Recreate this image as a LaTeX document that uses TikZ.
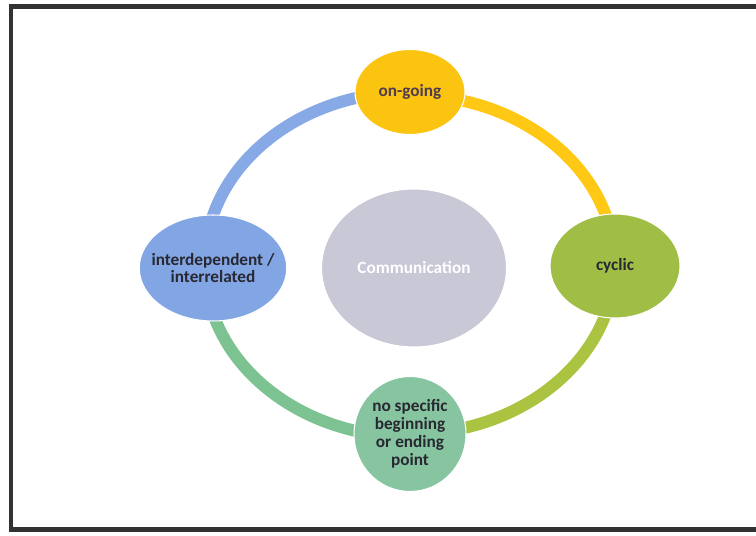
\documentclass[tikz,border=0pt]{standalone}
\usepackage{fontspec}
\setmainfont{Carlito}
\usetikzlibrary{shapes.geometric}

\definecolor{goldfill}{RGB}{250,196,16}
\definecolor{limefill}{RGB}{160,190,70}
\definecolor{bluefill}{RGB}{130,165,228}
\definecolor{tealfill}{RGB}{135,196,160}
\definecolor{greyfill}{RGB}{200,200,215}
\definecolor{bluering}{RGB}{135,170,230}
\definecolor{goldring}{RGB}{255,200,20}
\definecolor{limering}{RGB}{170,195,65}
\definecolor{tealring}{RGB}{125,195,145}
\definecolor{labeltext}{RGB}{40,40,50}
\definecolor{goldtext}{RGB}{80,60,80}
\definecolor{framegrey}{RGB}{50,50,50}

\begin{document}
\begin{tikzpicture}[x=0.02cm,y=0.02cm,
  bubble/.style={ellipse,inner xsep=-12pt,inner ysep=0pt,draw=white,line width=0.6pt,align=center,
    font=\fontsize{9.8}{10.2}\selectfont\bfseries,text=labeltext},
  ringarc/.style={line width=0.24cm}]
  \useasboundingbox (0,0) rectangle (756,536);
  % outer frame, open on the right
  \draw[framegrey,line width=0.1cm] (770,529) -- (11,529) -- (11,6) -- (770,6);
  % ring behind the bubbles
  \coordinate (ring) at (410,273);
  \coordinate (ringtop) at (410,444);
  \coordinate (ringleft) at (205,270);
  \coordinate (ringbottom) at (410,102);
  \coordinate (ringright) at (615,270);
  \draw[ringarc,bluering] (ringtop) arc[start angle=90,end angle=180,x radius=205,y radius=171];
  \draw[ringarc,tealring] (ringleft) arc[start angle=180,end angle=270,x radius=205,y radius=171];
  \draw[ringarc,limering] (ringbottom) arc[start angle=270,end angle=360,x radius=205,y radius=171];
  \draw[ringarc,goldring] (ringright) arc[start angle=0,end angle=90,x radius=205,y radius=171];
  % bubbles
  \node[bubble,fill=greyfill,minimum width=3.7cm,minimum height=3.16cm,text=white]
    (comm) at (414,268) {Communication};
  \node[bubble,fill=goldfill,minimum width=2.2cm,minimum height=1.7cm,text=goldtext]
    (ongoing) at (ringtop) {on-going};
  \node[bubble,fill=limefill,minimum width=2.6cm,minimum height=2.08cm]
    (cyclic) at (ringright) {cyclic};
  \node[bubble,fill=tealfill,minimum width=2.24cm,minimum height=2.3cm]
    (nostart) at (ringbottom) {no specific\\beginning\\or ending\\point};
  \node[bubble,fill=bluefill,minimum width=2.95cm,minimum height=2.12cm]
    (interdep) at (213,268) {interdependent /\\interrelated};
\end{tikzpicture}
\end{document}
